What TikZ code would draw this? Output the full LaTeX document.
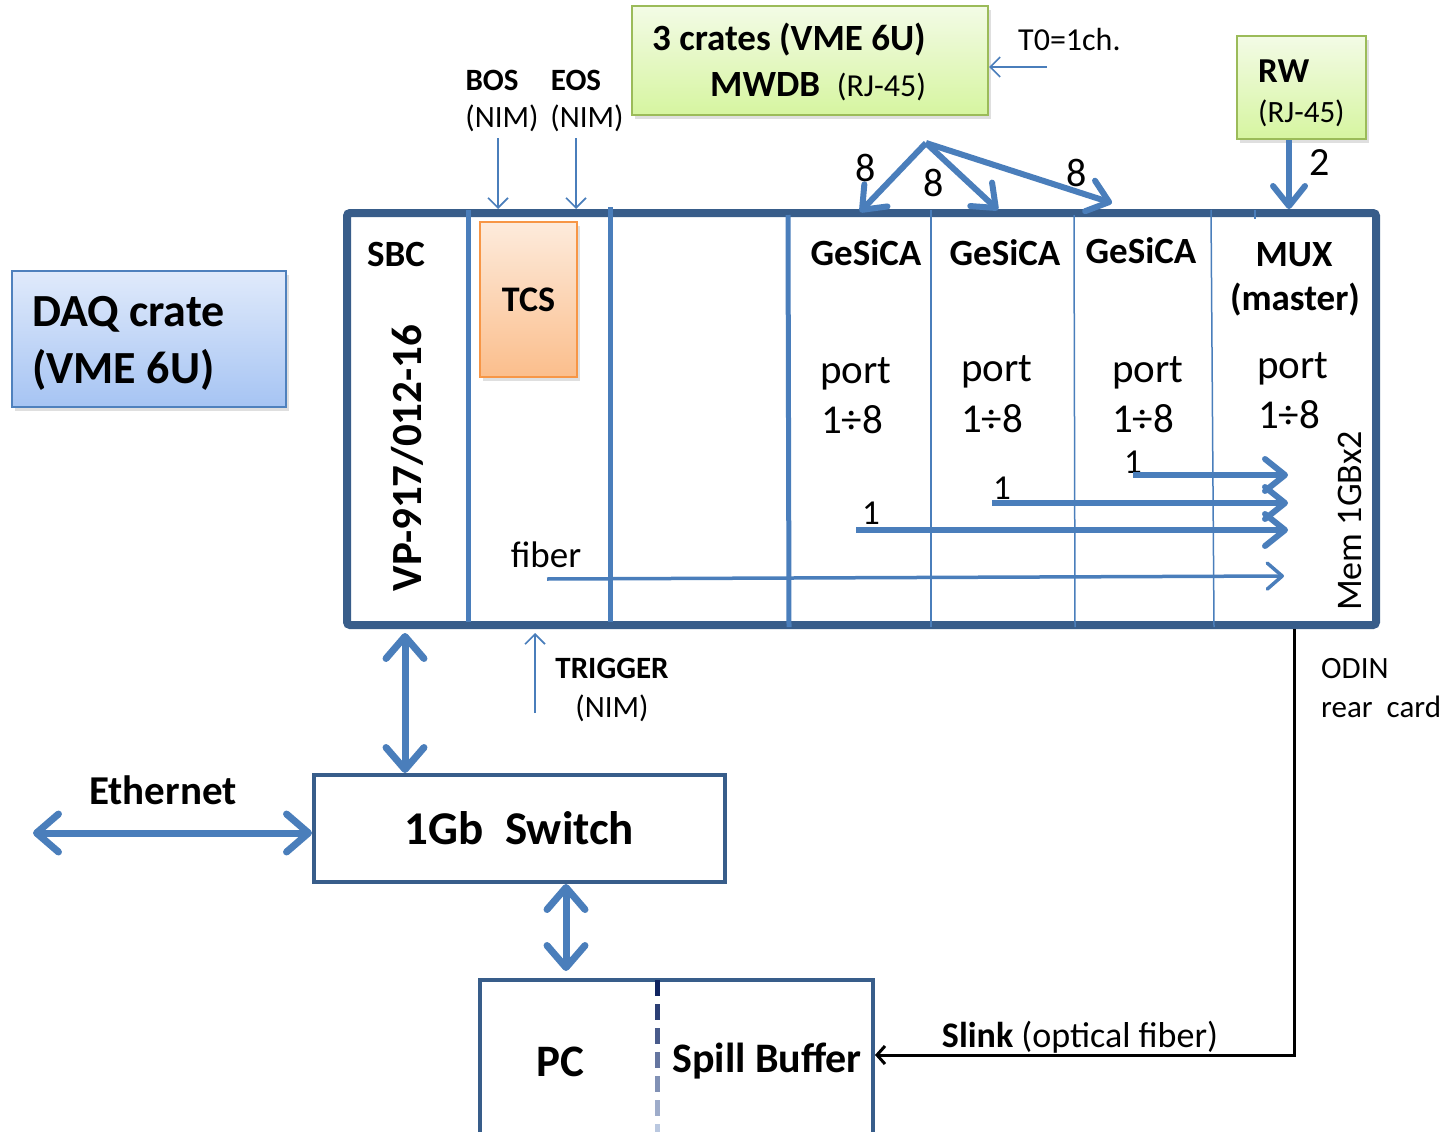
\documentclass[tikz,border=0pt]{standalone}
\usepackage{fontspec}
\setmainfont{Carlito}
\usetikzlibrary{arrows.meta,shadows,positioning}
\definecolor{frameblue}{RGB}{56,93,138}
\definecolor{lineblue}{RGB}{74,126,187}
\definecolor{daqtop}{RGB}{224,234,251}
\definecolor{daqbot}{RGB}{166,196,243}
\definecolor{daqedge}{RGB}{79,129,189}
\definecolor{greentop}{RGB}{243,251,230}
\definecolor{greenbot}{RGB}{214,245,160}
\definecolor{greenedge}{RGB}{155,187,89}
\definecolor{tcstop}{RGB}{253,235,220}
\definecolor{tcsbot}{RGB}{251,190,140}
\definecolor{tcsedge}{RGB}{247,150,70}
\definecolor{divdark}{RGB}{16,36,96}
\definecolor{divlight}{RGB}{205,218,238}
\newcommand{\fsz}[1]{\fontsize{#1}{#1}\selectfont}
\tikzset {
cratebox/.style={shape=rectangle,draw=frameblue,line width=8pt,rounded corners=3pt,inner sep=0pt},
plainbox/.style={shape=rectangle,draw=frameblue,line width=4pt,inner sep=0pt},
softshadow/.style={drop shadow={opacity=0.25,shadow xshift=3pt,shadow yshift=-4pt}},
greenbox/.style={shape=rectangle,draw=greenedge,line width=2pt,top color=greentop,bottom color=greenbot,softshadow},
daqbox/.style={shape=rectangle,draw=daqedge,line width=2pt,top color=daqtop,bottom color=daqbot,softshadow},
tcsbox/.style={shape=rectangle,draw=tcsedge,line width=2pt,top color=tcstop,bottom color=tcsbot,softshadow},
txt/.style={inner sep=0pt,font=\fsz{#1}},
btxt/.style={inner sep=0pt,font=\fsz{#1}\bfseries},
slot/.style={draw=lineblue,line width=5pt},
thinslot/.style={draw=lineblue,line width=1.5pt},
sig/.style={draw=lineblue,line width=1.6pt,-{Straight Barb[length=10pt,width=20pt]}},
fibre/.style={draw=lineblue,line width=3.5pt,-{Straight Barb[length=15pt,width=26pt,round]}},
bus/.style={draw=lineblue,line width=6pt,-{Straight Barb[length=20pt,width=32pt,round]}},
bibus/.style={draw=lineblue,line width=7pt,{Straight Barb[length=22pt,width=38pt,round]}-{Straight Barb[length=22pt,width=38pt,round]}}
}
\begin{document}
\begin{tikzpicture}[x=1pt,y=-1pt]
\useasboundingbox (0,0) rectangle (1449,1132);
\clip (0,0) rectangle (1449,1132);

% crate and slots
\node[cratebox,minimum width=1029pt,minimum height=412pt] (crate) at (861.5,419) {};
\draw[slot] (468,210) -- (468,622);
\draw[slot] (610,207) -- (610,622);
\draw[slot] (788,215) -- (789,627);
\draw[thinslot] (931,210) -- (931,627);
\draw[thinslot] (1074,215) -- (1075,627);
\draw[thinslot] (1211,210) -- (1214,627);
\draw[thinslot] (1255,210) -- (1255,219);

\node[btxt=37,anchor=base] (sbc) at (396,266) {SBC};
\node[btxt=43,rotate=90] (vp) at (407,458) {VP-917/012-16};
\node[tcsbox,minimum width=97pt,minimum height=155pt,font=\fsz{36}\bfseries] (tcs) at (528.5,299.5) {TCS};
\node[txt=37,anchor=base] (fiber) at (546,567) {fiber};

\node[btxt=37,anchor=base] (gesica1) at (866,265) {GeSiCA};
\node[btxt=37,anchor=base] (gesica2) at (1005,265) {GeSiCA};
\node[btxt=37,anchor=base] (gesica3) at (1141,263) {GeSiCA};
\node[btxt=37,anchor=base] (mux) at (1294,266) {MUX};
\node[btxt=37,anchor=base] (master) at (1295,310) {(master)};

\node[txt=41,anchor=base] (port1) at (856,383) {port};
\node[txt=41,anchor=base] (port2) at (997,381) {port};
\node[txt=41,anchor=base] (port3) at (1148,382) {port};
\node[txt=41,anchor=base] (port4) at (1293,378) {port};
\node[txt=41,anchor=base] (range1) at (852,433) {1÷8};
\node[txt=41,anchor=base] (range2) at (992,432) {1÷8};
\node[txt=41,anchor=base] (range3) at (1143,432) {1÷8};
\node[txt=41,anchor=base] (range4) at (1289,428) {1÷8};

\node[txt=35,anchor=base] (one1) at (871,524) {1};
\node[txt=35,anchor=base] (one2) at (1002,499) {1};
\node[txt=35,anchor=base] (one3) at (1133,473) {1};
\coordinate (out1) at (856,530);
\coordinate (out2) at (992,503);
\coordinate (out3) at (1133,475);
\coordinate (muxin) at (1288,0);
\draw[bus] (out1) -- (out1 -| muxin);
\draw[bus] (out2) -- (out2 -| muxin);
\draw[bus] (out3) -- (out3 -| muxin);
\coordinate (fibout) at (547,579);
\coordinate (fibin) at (1284,576);
\draw[fibre] (fibout) -- (fibin);
\node[txt=36,rotate=90] (mem) at (1350,521) {Mem 1GBx2};

% boxes above the crate
\node[daqbox,minimum width=274pt,minimum height=136pt] (daq) at (149,339) {};
\node[inner sep=0pt,anchor=base west,align=left,font=\fontsize{46}{57}\selectfont\bfseries] (daqname) at (32,383) {DAQ crate\\(VME 6U)};

\node[btxt=31,anchor=base] (bos) at (492,90) {BOS};
\node[txt=31,anchor=base] (bosnim) at (502,128) {(NIM)};
\node[btxt=31,anchor=base] (eos) at (576,90) {EOS};
\node[txt=31,anchor=base] (eosnim) at (587,128) {(NIM)};
\coordinate (bosin) at (498,138);
\coordinate (eosin) at (576,138);
\draw[sig] (bosin) -- (bosin |- crate.north);
\draw[sig] (eosin) -- (eosin |- crate.north);

\node[greenbox,minimum width=356pt,minimum height=109pt] (mwdb) at (810,60.5) {};
\node[btxt=37,anchor=base west] (crates) at (652,51) {3 crates (VME 6U)};
\node[btxt=37,anchor=base west] (mwdbname) at (710,96) {MWDB~~{\mdseries\fsz{32}(RJ-45)}};
\node[txt=32,anchor=base west] (tzero) at (1018,51) {T0=1ch.};
\coordinate (tzerotail) at (1047,67);
\draw[sig] (tzerotail) -- (tzerotail -| mwdb.east);

\coordinate (fan) at (926,143);
\coordinate (gin1) at (860,212);
\coordinate (gin2) at (998,210);
\coordinate (gin3) at (1112,203);
\draw[bus] (fan) -- (gin1);
\draw[bus] (fan) -- (gin2);
\draw[bus] (fan) -- (gin3);
\node[txt=40,anchor=base] (eight1) at (866,181) {8};
\node[txt=40,anchor=base] (eight2) at (934,196) {8};
\node[txt=40,anchor=base] (eight3) at (1077,186) {8};

\node[greenbox,minimum width=129pt,minimum height=103pt] (rw) at (1301.5,87.5) {};
\node[btxt=35,anchor=base west] (rwname) at (1258,82) {RW};
\node[txt=31,anchor=base west] (rwplug) at (1258,122) {(RJ-45)};
\coordinate (rwdown) at (1289,0);
\draw[bus] (rw.south -| rwdown) -- (crate.north -| rwdown);
\node[txt=40,anchor=base] (two) at (1320,175) {2};

% below the crate
\node[btxt=31,anchor=base] (trigger) at (612,678) {TRIGGER};
\node[txt=31,anchor=base] (trignim) at (612,717) {(NIM)};
\coordinate (trigfoot) at (535,713);
\draw[sig,shorten >=4pt] (trigfoot) -- (trigfoot |- crate.south);

\node[plainbox,minimum width=411pt,minimum height=107pt,font=\fsz{47}\bfseries] (switch) at (519.5,828.5) {1Gb~~Switch};
\coordinate (sbclink) at (405,0);
\draw[bibus,shorten <=4pt] (crate.south -| sbclink) -- (switch.north -| sbclink);
\coordinate (ethend) at (33,833);
\draw[bibus] (ethend) -- (ethend -| switch.west);
\node[btxt=41,anchor=base] (ethernet) at (163,804) {Ethernet};

\node[plainbox,minimum width=393pt,minimum height=230pt,anchor=north] (pc) at (676.5,978) {};
\coordinate (pclink) at (566,0);
\draw[bibus,shorten >=7pt] (switch.south -| pclink) -- (pc.north -| pclink);
\foreach \i in {0,...,6} {
  \pgfmathtruncatemacro{\mix}{100-\i*15}
  \draw[draw=divdark!\mix!divlight,line width=5pt] (657,980+\i*24) -- (657,996+\i*24);
}
\node[btxt=45,anchor=base] (pcname) at (560,1076) {PC};
\node[btxt=42,anchor=base] (spill) at (767,1072) {Spill Buffer};

\node[txt=31,anchor=base west] (odin) at (1321,678) {ODIN};
\node[txt=31,anchor=base west] (rear) at (1321,717) {rear~~card};
\coordinate (slinkturn) at (1294,1055);
\draw[black,line width=3pt,-{Straight Barb[length=8pt,width=18pt]}] (crate.south -| slinkturn) -- (slinkturn) -- (slinkturn -| pc.east);
\node[txt=36,anchor=base] (slink) at (1080,1047) {{\bfseries Slink} (optical fiber)};
\end{tikzpicture}
\end{document}
